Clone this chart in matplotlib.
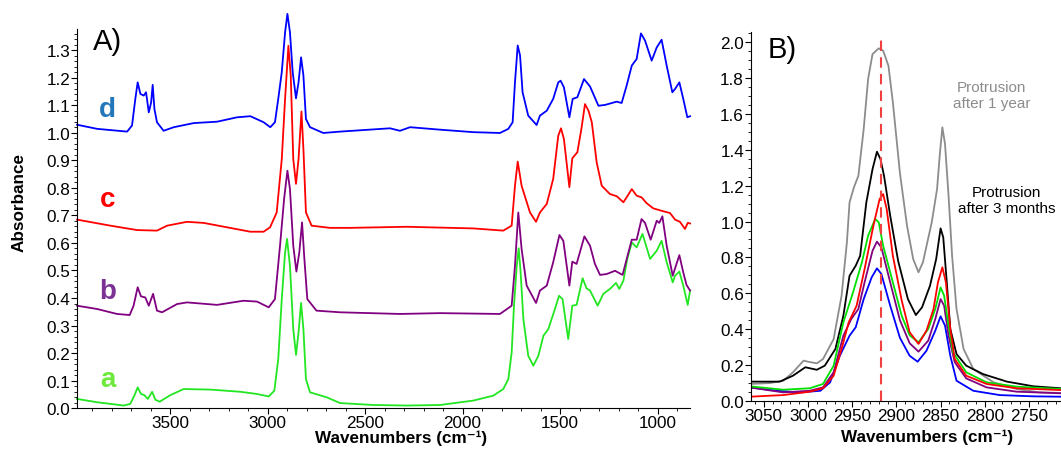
import matplotlib
matplotlib.use("Agg")
import matplotlib.pyplot as plt
from matplotlib.ticker import MultipleLocator, FormatStrFormatter

plt.rcParams['font.family'] = ['Liberation Sans', 'DejaVu Sans']

# ---------------- Panel A data (wavenumber, absorbance) ----------------
a_pts = [(3977, 0.033), (3874, 0.021), (3737, 0.009), (3704, 0.015), (3683, 0.045), (3666, 0.075),
         (3649, 0.051), (3632, 0.047), (3614, 0.033), (3592, 0.059), (3575, 0.030), (3553, 0.023),
         (3498, 0.047), (3430, 0.069), (3293, 0.067), (3139, 0.059), (3054, 0.051), (2994, 0.042),
         (2965, 0.063), (2945, 0.178), (2927, 0.396), (2910, 0.566), (2900, 0.615), (2885, 0.517),
         (2868, 0.287), (2854, 0.193), (2841, 0.275), (2828, 0.382), (2816, 0.287), (2803, 0.105),
         (2782, 0.057), (2697, 0.039), (2628, 0.018), (2458, 0.011), (2286, 0.009), (2115, 0.011),
         (1945, 0.027), (1842, 0.045), (1791, 0.069), (1765, 0.105), (1748, 0.202), (1736, 0.372),
         (1722, 0.517), (1712, 0.581), (1702, 0.493), (1688, 0.324), (1663, 0.190), (1637, 0.154),
         (1611, 0.190), (1585, 0.263), (1560, 0.287), (1526, 0.360), (1505, 0.408), (1487, 0.396),
         (1458, 0.251), (1437, 0.372), (1415, 0.375), (1384, 0.472), (1364, 0.435), (1346, 0.427),
         (1307, 0.372), (1278, 0.415), (1244, 0.433), (1213, 0.455), (1196, 0.433), (1175, 0.463),
         (1155, 0.542), (1132, 0.602), (1107, 0.584), (1077, 0.633), (1038, 0.542), (1004, 0.572),
         (979, 0.608), (953, 0.530), (922, 0.457), (910, 0.481), (888, 0.496), (868, 0.445),
         (845, 0.375), (833, 0.427)]

b_pts = [(3977, 0.372), (3874, 0.360), (3772, 0.342), (3707, 0.338), (3687, 0.372), (3666, 0.439),
         (3649, 0.406), (3627, 0.402), (3609, 0.372), (3587, 0.415), (3567, 0.354), (3541, 0.348),
         (3464, 0.378), (3413, 0.384), (3259, 0.375), (3123, 0.390), (3054, 0.387), (2994, 0.366),
         (2962, 0.396), (2936, 0.590), (2915, 0.760), (2898, 0.863), (2885, 0.796), (2868, 0.590),
         (2852, 0.496), (2837, 0.566), (2823, 0.675), (2811, 0.542), (2796, 0.396), (2749, 0.354),
         (2628, 0.348), (2321, 0.342), (2115, 0.345), (1808, 0.342), (1748, 0.372), (1731, 0.517),
         (1714, 0.711), (1697, 0.578), (1671, 0.445), (1623, 0.382), (1603, 0.427), (1568, 0.445),
         (1535, 0.530), (1503, 0.629), (1483, 0.608), (1452, 0.445), (1437, 0.532), (1415, 0.524),
         (1375, 0.624), (1346, 0.590), (1321, 0.524), (1295, 0.484), (1261, 0.487), (1218, 0.499),
         (1179, 0.484), (1158, 0.542), (1132, 0.612), (1107, 0.612), (1082, 0.687), (1064, 0.673),
         (1035, 0.612), (1004, 0.681), (991, 0.673), (975, 0.697), (953, 0.590), (922, 0.481),
         (888, 0.556), (868, 0.493), (851, 0.447), (833, 0.427)]

c_pts = [(3977, 0.685), (3806, 0.663), (3669, 0.647), (3567, 0.645), (3515, 0.663), (3413, 0.677),
         (3327, 0.673), (3208, 0.657), (3088, 0.641), (3020, 0.641), (2987, 0.657), (2953, 0.711),
         (2927, 0.905), (2910, 1.124), (2893, 1.317), (2881, 1.209), (2868, 0.905), (2854, 0.815),
         (2841, 0.905), (2826, 1.078), (2816, 0.942), (2803, 0.711), (2774, 0.663), (2680, 0.655),
         (2577, 0.655), (2286, 0.659), (1945, 0.653), (1791, 0.645), (1748, 0.663), (1731, 0.808),
         (1717, 0.896), (1697, 0.808), (1654, 0.711), (1623, 0.677), (1603, 0.711), (1568, 0.742),
         (1535, 0.833), (1509, 0.990), (1495, 1.017), (1480, 0.978), (1452, 0.803), (1437, 0.908),
         (1411, 0.930), (1389, 1.021), (1372, 1.105), (1354, 1.081), (1337, 1.039), (1312, 0.893),
         (1286, 0.808), (1244, 0.778), (1209, 0.770), (1175, 0.748), (1153, 0.772), (1132, 0.796),
         (1107, 0.772), (1082, 0.766), (1056, 0.745), (1022, 0.726), (979, 0.717), (936, 0.709),
         (910, 0.685), (885, 0.677), (859, 0.651), (845, 0.673), (833, 0.671)]

d_pts = [(3977, 1.030), (3874, 1.015), (3720, 1.005), (3695, 1.027), (3678, 1.124), (3666, 1.184),
         (3652, 1.142), (3635, 1.136), (3623, 1.148), (3609, 1.075), (3597, 1.111), (3589, 1.175),
         (3580, 1.087), (3567, 1.039), (3533, 1.008), (3481, 1.021), (3378, 1.036), (3259, 1.041),
         (3156, 1.057), (3088, 1.061), (3020, 1.039), (2986, 1.021), (2962, 1.039), (2945, 1.124),
         (2927, 1.221), (2910, 1.366), (2898, 1.433), (2885, 1.366), (2871, 1.221), (2854, 1.126),
         (2841, 1.184), (2828, 1.275), (2816, 1.209), (2803, 1.051), (2782, 1.021), (2714, 1.000),
         (2628, 1.005), (2372, 1.017), (2321, 1.008), (2269, 1.021), (2115, 1.012), (1945, 1.003),
         (1808, 1.000), (1765, 1.015), (1743, 1.039), (1731, 1.184), (1717, 1.318), (1705, 1.282),
         (1692, 1.148), (1663, 1.063), (1620, 1.029), (1603, 1.063), (1568, 1.081), (1535, 1.124),
         (1509, 1.184), (1497, 1.190), (1480, 1.166), (1452, 1.057), (1435, 1.124), (1411, 1.130),
         (1377, 1.196), (1346, 1.169), (1303, 1.099), (1269, 1.102), (1209, 1.114), (1184, 1.109),
         (1158, 1.173), (1132, 1.245), (1107, 1.269), (1085, 1.362), (1064, 1.336), (1030, 1.263),
         (1004, 1.311), (979, 1.339), (953, 1.245), (924, 1.148), (910, 1.160), (888, 1.184),
         (868, 1.124), (847, 1.057), (833, 1.061)]

# ---------------- Panel B data ----------------
gray_pts = [(3066, 0.095), (3043, 0.100), (3028, 0.113), (3017, 0.160), (3005, 0.225), (3000, 0.219),
            (2990, 0.210), (2983, 0.234), (2971, 0.345), (2962, 0.587), (2956, 0.884), (2953, 1.107),
            (2948, 1.191), (2943, 1.255), (2937, 1.515), (2932, 1.794), (2927, 1.933), (2920, 1.965),
            (2915, 1.952), (2909, 1.868), (2904, 1.664), (2896, 1.270), (2888, 0.977), (2881, 0.791),
            (2875, 0.717), (2870, 0.773), (2860, 0.996), (2854, 1.181), (2851, 1.367), (2848, 1.525),
            (2845, 1.432), (2841, 1.144), (2837, 0.809), (2832, 0.513), (2824, 0.290), (2813, 0.178),
            (2790, 0.104), (2764, 0.067), (2738, 0.048), (2714, 0.045)]

black_pts = [(3066, 0.108), (3032, 0.108), (3017, 0.141), (3003, 0.188), (2990, 0.174), (2981, 0.197),
             (2969, 0.290), (2960, 0.475), (2953, 0.698), (2946, 0.754), (2941, 0.809), (2934, 1.107),
             (2927, 1.292), (2922, 1.389), (2918, 1.348), (2914, 1.255), (2907, 1.032), (2898, 0.780),
             (2887, 0.568), (2878, 0.479), (2871, 0.522), (2862, 0.642), (2855, 0.791), (2850, 0.962),
             (2847, 0.912), (2843, 0.661), (2839, 0.401), (2832, 0.262), (2821, 0.197), (2802, 0.150),
             (2775, 0.108), (2745, 0.082), (2714, 0.071)]

red_pts = [(3066, 0.024), (3028, 0.033), (2998, 0.052), (2983, 0.071), (2971, 0.141), (2962, 0.290),
           (2954, 0.438), (2945, 0.531), (2936, 0.735), (2926, 0.977), (2919, 1.125), (2915, 1.153),
           (2911, 1.070), (2904, 0.809), (2894, 0.560), (2885, 0.383), (2875, 0.318), (2866, 0.392),
           (2858, 0.513), (2853, 0.661), (2848, 0.745), (2844, 0.661), (2839, 0.401), (2834, 0.234),
           (2821, 0.141), (2798, 0.095), (2764, 0.071), (2714, 0.061)]

green_pts = [(3066, 0.082), (3028, 0.063), (2998, 0.071), (2983, 0.095), (2971, 0.197), (2960, 0.438),
             (2949, 0.606), (2939, 0.773), (2932, 0.921), (2924, 1.014), (2920, 0.996), (2915, 0.865),
             (2904, 0.661), (2894, 0.475), (2885, 0.366), (2875, 0.327), (2864, 0.401), (2856, 0.513),
             (2850, 0.633), (2846, 0.587), (2841, 0.420), (2836, 0.271), (2821, 0.160), (2798, 0.104),
             (2764, 0.080), (2714, 0.067)]

purple_pts = [(3066, 0.076), (3028, 0.048), (2998, 0.057), (2983, 0.076), (2971, 0.160), (2960, 0.364),
              (2951, 0.457), (2943, 0.513), (2936, 0.661), (2927, 0.837), (2922, 0.888), (2917, 0.856),
              (2907, 0.661), (2896, 0.450), (2885, 0.322), (2875, 0.275), (2864, 0.336), (2856, 0.457),
              (2850, 0.568), (2846, 0.531), (2841, 0.364), (2834, 0.216), (2821, 0.126), (2798, 0.076),
              (2764, 0.052), (2714, 0.043)]

blue_pts = [(3066, 0.076), (3035, 0.057), (3009, 0.048), (2986, 0.057), (2975, 0.104), (2964, 0.252),
            (2953, 0.364), (2946, 0.411), (2937, 0.568), (2928, 0.689), (2922, 0.739), (2917, 0.708),
            (2907, 0.531), (2896, 0.352), (2885, 0.252), (2876, 0.219), (2866, 0.280), (2856, 0.392),
            (2850, 0.472), (2845, 0.420), (2839, 0.252), (2832, 0.113), (2813, 0.057), (2783, 0.033),
            (2745, 0.026), (2714, 0.024)]

marker_wn = 2917

labels_A = ['a', 'b', 'c', 'd']
a_ticks_x = [3500, 3000, 2500, 2000, 1500, 1000]
b_ticks_x = [3050, 3000, 2950, 2900, 2850, 2800, 2750]


def xy(pts):
    return [p[0] for p in pts], [p[1] for p in pts]


fig = plt.figure(figsize=(10.61, 4.52), dpi=100)
axA = fig.add_axes([0.0726, 0.0951, 0.5778, 0.8385])
axB = fig.add_axes([0.7078, 0.1106, 0.2922, 0.8164])

lw = 1.3
curvesA = [(a_pts, '#22e622'), (b_pts, '#800080'), (c_pts, '#ff0000'), (d_pts, '#0000ff')]
for pts, col in curvesA:
    x, y = xy(pts)
    axA.plot(x, y, color=col, lw=lw, clip_on=False, solid_joinstyle='round')

axA.set_xlim(3977, 833)
axA.set_ylim(0, 1.378)
axA.set_xticks(a_ticks_x)
axA.xaxis.set_minor_locator(MultipleLocator(100))
axA.yaxis.set_major_locator(MultipleLocator(0.1))
axA.yaxis.set_minor_locator(MultipleLocator(0.02))
axA.yaxis.set_major_formatter(FormatStrFormatter('%.1f'))

letter_cols = ['#6ee83c', '#7b3294', '#ff0000', '#2277bb']
letter_y = [0.0765, 0.309, 0.551, 0.789]
for lab, col, yy in zip(labels_A, letter_cols, letter_y):
    axA.text(0.05, yy, lab, transform=axA.transAxes, color=col, fontsize=20,
             fontweight='bold', ha='center', va='center')
axA.text(0.026, 0.968, 'A)', transform=axA.transAxes, fontsize=21, ha='left', va='center')

curvesB = [(gray_pts, '#8c8c8c'), (black_pts, '#000000'), (blue_pts, '#0000ff'),
           (purple_pts, '#800080'), (green_pts, '#00e000'), (red_pts, '#ff0000')]
for pts, col in curvesB:
    x, y = xy(pts)
    axB.plot(x, y, color=col, lw=lw, solid_joinstyle='round')
axB.plot([marker_wn, marker_wn], [0, 2.017], color='#f04040', lw=1.5, ls=(0, (5, 3)))

axB.set_xlim(3064.5, 2713.8)
axB.set_ylim(0, 2.056)
axB.set_xticks(b_ticks_x)
axB.xaxis.set_minor_locator(MultipleLocator(10))
axB.yaxis.set_major_locator(MultipleLocator(0.2))
axB.yaxis.set_minor_locator(MultipleLocator(0.05))
axB.yaxis.set_major_formatter(FormatStrFormatter('%.1f'))
axB.text(0.055, 0.954, 'B)', transform=axB.transAxes, fontsize=21, ha='left', va='center')
axB.text(2792, 1.705, 'Protrusion\nafter 1 year', color='#8c8c8c', fontsize=11,
         ha='center', va='center', linespacing=1.25)
axB.text(2775, 1.12, 'Protrusion\nafter 3 months', color='#000000', fontsize=11,
         ha='center', va='center', linespacing=1.25)

for ax in (axA, axB):
    ax.spines['top'].set_visible(False)
    ax.spines['right'].set_visible(False)
    ax.tick_params(which='major', direction='out', length=4, width=0.8, labelsize=12.3, pad=1)
    ax.tick_params(which='minor', direction='out', length=2, width=0.6)
    ax.patch.set_alpha(0)

xl = 'Wavenumbers (cm\u207b\u00b9)'
axA.set_xlabel(xl, fontsize=12.3, fontweight='bold')
axA.xaxis.set_label_coords(0.529, -0.056)
axB.set_xlabel(xl, fontsize=12.3, fontweight='bold')
axB.xaxis.set_label_coords(0.568, -0.076)
axA.set_ylabel('Absorbance', fontsize=12.3, fontweight='bold')
axA.yaxis.set_label_coords(-0.083, 0.544)

fig.savefig('out.png', dpi=100)
